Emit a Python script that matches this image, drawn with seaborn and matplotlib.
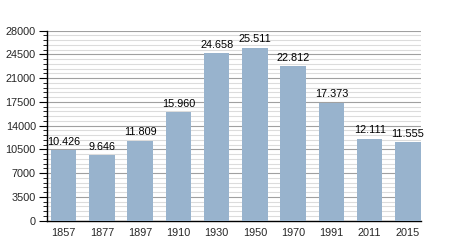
import matplotlib
matplotlib.use("Agg")
import matplotlib.pyplot as plt
import seaborn as sns
import pandas as pd
from matplotlib.ticker import MultipleLocator

years = ["1857", "1877", "1897", "1910", "1930", "1950", "1970", "1991", "2011", "2015"]
population = [10426, 9646, 11809, 15960, 24658, 25511, 22812, 17373, 12111, 11555]
labels = ["10.426", "9.646", "11.809", "15.960", "24.658", "25.511", "22.812", "17.373", "12.111", "11.555"]
yticks = [0, 3500, 7000, 10500, 14000, 17500, 21000, 24500, 28000]

sns.set_style("white")
plt.rcParams['font.family'] = ['Liberation Sans', 'DejaVu Sans']

df = pd.DataFrame({"year": years, "pop": population})
fig = plt.figure(figsize=(4.5, 2.5), dpi=100)
ax = fig.add_axes([47/450, 1 - 220.7/250, 373.7/450, 190/250])

sns.barplot(data=df, x="year", y="pop", color="#98b3cd", saturation=1, width=0.667,
            linewidth=0, ax=ax, zorder=3)

ax.set_ylim(0, 28000)
ax.set_xlim(-0.436, len(years) - 1 + 0.333)
ax.set_yticks(yticks)
ax.set_yticklabels([str(v) for v in yticks])
ax.yaxis.set_minor_locator(MultipleLocator(700))
ax.grid(axis="y", which="major", color="#a0a0a0", linewidth=0.8, zorder=0)
ax.grid(axis="y", which="minor", color="#dcdcdc", linewidth=0.8, zorder=0)
ax.set_axisbelow(True)

for s in ["top", "right"]:
    ax.spines[s].set_visible(False)
for s in ["left", "bottom"]:
    ax.spines[s].set_color("black")
    ax.spines[s].set_linewidth(1.0)

ax.tick_params(axis="y", which="major", left=True, length=6, width=0.8, color="black", labelsize=7.8, pad=2)
ax.tick_params(axis="y", which="minor", left=True, length=3, width=0.6, color="black")
ax.tick_params(axis="x", bottom=False, labelsize=7.8, pad=2)
ax.set_xlabel("")
ax.set_ylabel("")

for i, (v, lab) in enumerate(zip(population, labels)):
    ax.text(i, v + 500, lab, ha="center", va="bottom", fontsize=7.8, color="black", zorder=4)

fig.savefig("out.png", dpi=100)
